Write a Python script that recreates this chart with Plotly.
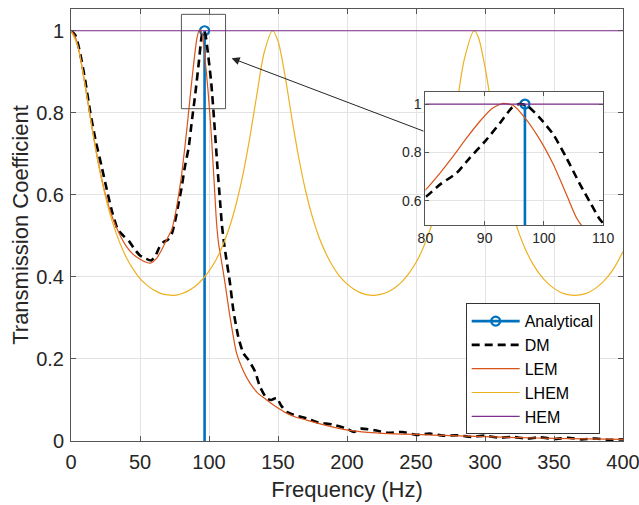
import plotly.graph_objects as go

# Analytical resonance (stem)
analytical_freq = [96.8, 96.8]
analytical_t = [0.0, 1.0]

# DM (dashed black)
dm_freq = [0, 3, 6, 10, 14, 18, 22, 26, 30, 34, 38, 42, 46, 50, 54, 58, 61, 64,
           67, 70, 73, 76, 78, 80, 82.5, 85.3, 87.5, 90.1, 92.6, 94.6, 95.8, 97.1,
           99.3, 101.6, 103.8, 106.1, 108, 109.4, 111, 112.5, 115.2, 117.6, 121.2,
           124.9, 128.5, 133.3, 137, 141.8, 145, 149, 152, 156.3, 163, 170.8, 179.2,
           190, 200, 205, 210, 220, 230, 240, 250, 260, 270, 280, 290, 300, 310,
           320, 330, 340, 350, 360, 370, 380, 390, 400]
dm_t = [1.0, 0.99, 0.955, 0.885, 0.8, 0.73, 0.672, 0.612, 0.556, 0.515, 0.5,
        0.487, 0.468, 0.452, 0.445, 0.44, 0.45, 0.472, 0.485, 0.49, 0.505, 0.545,
        0.58, 0.615, 0.668, 0.716, 0.778, 0.847, 0.922, 0.985, 1.0, 0.995, 0.943,
        0.874, 0.778, 0.668, 0.585, 0.525, 0.48, 0.445, 0.385, 0.32, 0.254, 0.214,
        0.198, 0.17, 0.132, 0.104, 0.1, 0.105, 0.088, 0.071, 0.062, 0.055, 0.045,
        0.04, 0.03, 0.022, 0.03, 0.026, 0.02, 0.022, 0.015, 0.018, 0.013, 0.014,
        0.01, 0.013, 0.008, 0.01, 0.006, 0.009, 0.005, 0.008, 0.004, 0.006, 0.003,
        0.004]

# LEM (orange)
lem_freq = [0, 3, 6, 10, 15, 20, 25, 30, 35, 40, 45, 50, 55, 58, 62, 66, 70, 73,
            76, 78, 80, 82.5, 84.7, 87, 89.2, 91.2, 93.1, 94.8, 96.8, 99.3, 101.6,
            103.8, 105.5, 107, 108.5, 111.6, 115.2, 120, 125, 129.7, 135, 141.8,
            148, 156.3, 163, 170.8, 179.2, 190, 200, 215, 230, 250, 275, 300, 325,
            350, 375, 400]
lem_t = [1.0, 0.986, 0.947, 0.872, 0.768, 0.675, 0.6, 0.545, 0.505, 0.475, 0.455,
         0.443, 0.435, 0.434, 0.445, 0.468, 0.495, 0.515, 0.56, 0.6, 0.645, 0.716,
         0.785, 0.861, 0.929, 0.981, 1.003, 0.995, 0.943, 0.854, 0.75, 0.627, 0.53,
         0.48, 0.45, 0.385, 0.303, 0.214, 0.17, 0.141, 0.118, 0.1, 0.085, 0.068,
         0.058, 0.051, 0.043, 0.034, 0.027, 0.021, 0.018, 0.016, 0.013, 0.0105,
         0.008, 0.0066, 0.005, 0.004]

# LHEM (yellow)
lhem_freq = [0, 5, 10, 15, 20, 25, 30, 35, 40, 45, 50, 55, 60, 65, 70, 75, 80, 85,
             90, 95, 100, 105, 110, 115, 120, 125, 130, 135, 140, 146, 150, 155,
             160, 165, 170, 175, 180, 185, 190, 195, 200, 205, 210, 215, 220, 225,
             230, 235, 240, 245, 250, 255, 260, 265, 270, 275, 280, 285, 292, 295,
             300, 305, 310, 315, 320, 325, 330, 335, 340, 345, 350, 355, 360, 365,
             370, 375, 380, 385, 390, 395, 400]
lhem_t = [1.0, 0.962, 0.872, 0.768, 0.673, 0.596, 0.534, 0.486, 0.448, 0.419,
          0.396, 0.380, 0.368, 0.360, 0.356, 0.355, 0.359, 0.366, 0.377, 0.393,
          0.414, 0.441, 0.477, 0.523, 0.582, 0.656, 0.748, 0.851, 0.947, 1.0,
          0.975, 0.892, 0.788, 0.691, 0.610, 0.545, 0.494, 0.455, 0.424, 0.400,
          0.383, 0.370, 0.361, 0.356, 0.355, 0.358, 0.364, 0.374, 0.389, 0.409,
          0.435, 0.469, 0.513, 0.569, 0.640, 0.728, 0.830, 0.930, 1.0, 0.986,
          0.912, 0.809, 0.709, 0.625, 0.557, 0.503, 0.462, 0.430, 0.405, 0.386,
          0.372, 0.362, 0.357, 0.355, 0.357, 0.362, 0.372, 0.386, 0.405, 0.430,
          0.462]

# HEM (purple, flat)
hem_freq = [0, 400]
hem_t = [1.0, 1.0]

x_ticks = [0, 50, 100, 150, 200, 250, 300, 350, 400]
y_ticks = [0, 0.2, 0.4, 0.6, 0.8, 1]
y_labels = ["0", "0.2", "0.4", "0.6", "0.8", "1"]
inset_x_ticks = [80, 90, 100, 110]
inset_y_ticks = [0.6, 0.8, 1]
inset_y_labels = ["0.6", "0.8", "1"]

BLUE = "#0072BD"
ORANGE = "#D95319"
YELLOW = "#EDB120"
PURPLE = "#7E2F8E"
FONT = "Arial, 'Liberation Sans', Helvetica, sans-serif"
AXC = "#555555"
GRID = "#e3e3e3"

fig = go.Figure()


def add_curves(xa, ya, legend):
    # stem line and its circle head
    fig.add_trace(go.Scatter(x=analytical_freq, y=analytical_t, mode="lines",
                             line=dict(color=BLUE, width=2.6), xaxis=xa, yaxis=ya,
                             legendgroup="an", showlegend=False, hoverinfo="skip"))
    fig.add_trace(go.Scatter(x=analytical_freq[1:], y=analytical_t[1:],
                             mode="lines+markers", name="Analytical",
                             line=dict(color=BLUE, width=2.6),
                             marker=dict(symbol="circle-open", size=9,
                                         line=dict(color=BLUE, width=2.2)),
                             xaxis=xa, yaxis=ya, legendgroup="an",
                             showlegend=legend))
    fig.add_trace(go.Scatter(x=dm_freq, y=dm_t, mode="lines", name="DM",
                             line=dict(color="black", width=2.6, dash="8px,5px",
                                       shape="spline", smoothing=0.6),
                             xaxis=xa, yaxis=ya, showlegend=legend))
    fig.add_trace(go.Scatter(x=lem_freq, y=lem_t, mode="lines", name="LEM",
                             line=dict(color=ORANGE, width=1.2, shape="spline",
                                       smoothing=0.6),
                             xaxis=xa, yaxis=ya, showlegend=legend))
    fig.add_trace(go.Scatter(x=lhem_freq, y=lhem_t, mode="lines", name="LHEM",
                             line=dict(color=YELLOW, width=1.2, shape="spline",
                                       smoothing=0.8),
                             xaxis=xa, yaxis=ya, showlegend=legend))
    fig.add_trace(go.Scatter(x=hem_freq, y=hem_t, mode="lines", name="HEM",
                             line=dict(color=PURPLE, width=1.2),
                             xaxis=xa, yaxis=ya, showlegend=legend))


add_curves("x", "y", True)
add_curves("x2", "y2", False)

axis_common = dict(showline=True, linecolor=AXC, linewidth=1, mirror="ticks",
                   ticks="inside", tickcolor=AXC, showgrid=True, gridcolor=GRID,
                   gridwidth=1, zeroline=False, automargin=False,
                   ticklabeloverflow="allow")

fig.update_layout(
    width=639, height=505,
    margin=dict(l=71, r=16, t=9, b=64),
    paper_bgcolor="white", plot_bgcolor="white",
    font=dict(family=FONT, size=20, color="#262626"),
    xaxis=dict(range=[0, 400], tickvals=x_ticks, ticklen=5, ticklabelstandoff=3,
               title=dict(text="Frequency (Hz)", font=dict(size=22), standoff=9),
               domain=[0, 1], **axis_common),
    yaxis=dict(range=[0, 1.053], tickvals=y_ticks, ticktext=y_labels, ticklen=5,
               ticklabelstandoff=2,
               title=dict(text="Transmission Coefficient", font=dict(size=22),
                          standoff=1),
               domain=[0, 1], **axis_common),
    xaxis2=dict(range=[80, 110], tickvals=inset_x_ticks, ticklen=4,
                domain=[0.642, 0.964], anchor="y2", tickfont=dict(size=14),
                **axis_common),
    yaxis2=dict(range=[0.5, 1.052], tickvals=inset_y_ticks,
                ticktext=inset_y_labels, ticklen=4, domain=[0.5, 0.809],
                anchor="x2", tickfont=dict(size=14), **axis_common),
    legend=dict(x=0.715, y=0.319, xanchor="left", yanchor="top",
                bgcolor="white", bordercolor="#333333", borderwidth=1,
                font=dict(size=16, color="black"), tracegroupgap=0,
                itemwidth=48),
    showlegend=True,
)

# opaque background for the inset so the main curves do not show through
fig.add_shape(type="rect", xref="x2 domain", yref="y2 domain", x0=0, x1=1, y0=0,
              y1=1, fillcolor="white", line=dict(width=0), layer="below")

# zoom box on the main axes
fig.add_shape(type="rect", xref="x", yref="y", x0=80, x1=112, y0=0.81, y1=1.04,
              line=dict(color="#555555", width=1))

# arrow from the inset to the zoom box
fig.add_annotation(x=116.4, y=0.933, ax=256.5, ay=0.754, xref="x", yref="y",
                   axref="x", ayref="y", text="", showarrow=True, arrowhead=2,
                   arrowsize=1.6, arrowwidth=1, arrowcolor="#262626")

# page body has a default 8px margin; drop it so the figure sits at the corner
fig.write_html("out.html", config={"displayModeBar": False},
               post_script="document.body.style.margin='0';")
